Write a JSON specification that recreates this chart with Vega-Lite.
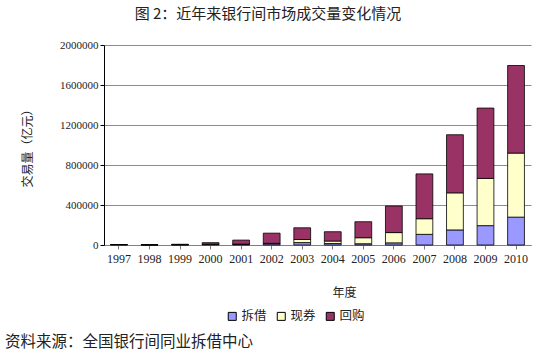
{
  "$schema": "https://vega.github.io/schema/vega-lite/v6.json",
  "padding": {"left": 5, "top": 7, "right": 5, "bottom": 5},
  "background": "white",
  "title": {"text": "图 2：近年来银行间市场成交量变化情况", "font": "Noto Sans CJK SC", "fontSize": 15, "fontWeight": "normal", "color": "#222", "anchor": "middle", "offset": 17},
  "config": {"view": {"stroke": null}},
  "vconcat": [
    {
      "width": 427,
      "height": 200,
      "title": {"text": "资料来源：全国银行间同业拆借中心", "orient": "bottom", "anchor": "start", "font": "Noto Sans CJK SC", "fontSize": 15.5, "fontWeight": "normal", "color": "#222", "offset": 37, "dx": -16.5},
      "data": {"values": [
        {"year": "1997", "type": "拆借", "value": 4149}, {"year": "1997", "type": "现券", "value": 10}, {"year": "1997", "type": "回购", "value": 307},
        {"year": "1998", "type": "拆借", "value": 1978}, {"year": "1998", "type": "现券", "value": 32}, {"year": "1998", "type": "回购", "value": 1021},
        {"year": "1999", "type": "拆借", "value": 3291}, {"year": "1999", "type": "现券", "value": 79}, {"year": "1999", "type": "回购", "value": 3949},
        {"year": "2000", "type": "拆借", "value": 6728}, {"year": "2000", "type": "现券", "value": 683}, {"year": "2000", "type": "回购", "value": 15781},
        {"year": "2001", "type": "拆借", "value": 8082}, {"year": "2001", "type": "现券", "value": 847}, {"year": "2001", "type": "回购", "value": 40133},
        {"year": "2002", "type": "拆借", "value": 12107}, {"year": "2002", "type": "现券", "value": 4412}, {"year": "2002", "type": "回购", "value": 101885},
        {"year": "2003", "type": "拆借", "value": 24113}, {"year": "2003", "type": "现券", "value": 30849}, {"year": "2003", "type": "回购", "value": 117203},
        {"year": "2004", "type": "拆借", "value": 14556}, {"year": "2004", "type": "现券", "value": 25041}, {"year": "2004", "type": "回购", "value": 93105},
        {"year": "2005", "type": "拆借", "value": 12783}, {"year": "2005", "type": "现券", "value": 60133}, {"year": "2005", "type": "回购", "value": 159781},
        {"year": "2006", "type": "拆借", "value": 21503}, {"year": "2006", "type": "现券", "value": 102586}, {"year": "2006", "type": "回购", "value": 265951},
        {"year": "2007", "type": "拆借", "value": 106466}, {"year": "2007", "type": "现券", "value": 156408}, {"year": "2007", "type": "回购", "value": 448209},
        {"year": "2008", "type": "拆借", "value": 150491}, {"year": "2008", "type": "现券", "value": 371120}, {"year": "2008", "type": "回购", "value": 580933},
        {"year": "2009", "type": "拆借", "value": 193505}, {"year": "2009", "type": "现券", "value": 472731}, {"year": "2009", "type": "回购", "value": 702995},
        {"year": "2010", "type": "拆借", "value": 278684}, {"year": "2010", "type": "现券", "value": 640450}, {"year": "2010", "type": "回购", "value": 875861}
      ]},
      "transform": [{"calculate": "datum.type === '拆借' ? 0 : (datum.type === '现券' ? 1 : 2)", "as": "k"}],
      "mark": {"type": "bar", "stroke": "#000", "strokeWidth": 0.8},
      "encoding": {
        "x": {"field": "year", "type": "nominal", "sort": null,
          "scale": {"paddingInner": 0.45, "paddingOuter": 0.215},
          "axis": {"title": "年度", "titleFont": "Noto Sans CJK SC", "titleFontSize": 12, "titleFontWeight": "normal", "titleColor": "#222", "titlePadding": 23, "titleX": 240,
            "labelAngle": 0, "labelFont": "Liberation Serif", "labelFontSize": 12, "labelColor": "#222", "labelPadding": 4,
            "domainColor": "#808080", "tickColor": "#808080", "tickSize": 4}},
        "y": {"field": "value", "type": "quantitative", "stack": "zero",
          "scale": {"domain": [0, 2000000], "nice": false},
          "axis": {"title": "交易量（亿元）", "titleFont": "Noto Sans CJK SC", "titleFontSize": 12, "titleFontWeight": "normal", "titleColor": "#222", "titlePadding": 25,
            "values": [0, 400000, 800000, 1200000, 1600000, 2000000], "format": "d",
            "labelFont": "Liberation Serif", "labelFontSize": 11, "labelColor": "#222", "labelPadding": 2,
            "domainColor": "#000", "tickColor": "#000", "tickSize": 4,
            "grid": true, "gridColor": "#8c8c8c", "gridWidth": 1}},
        "color": {"field": "type", "type": "nominal",
          "scale": {"domain": ["拆借", "现券", "回购"], "range": ["#9999FF", "#FFFFCC", "#993366"]},
          "legend": {"title": null, "orient": "none", "direction": "horizontal", "legendX": 122, "legendY": 265,
            "symbolType": "square", "symbolSize": 64, "symbolStrokeColor": "#000", "symbolStrokeWidth": 1,
            "labelFont": "Noto Sans CJK SC", "labelFontSize": 12.5, "labelColor": "#222", "columnPadding": 8, "labelOffset": 3}},
        "order": {"field": "k", "type": "quantitative"}
      }
    }
  ]
}
